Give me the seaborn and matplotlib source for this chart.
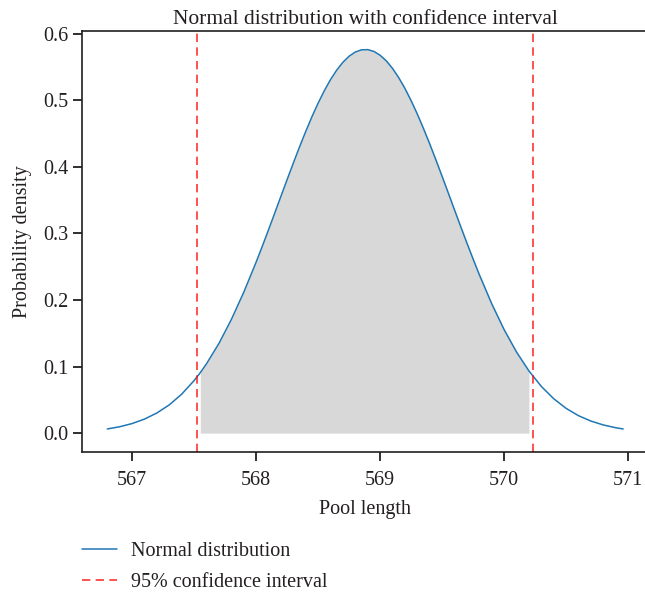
import matplotlib
matplotlib.use("Agg")
import matplotlib.pyplot as plt
import numpy as np
import pandas as pd
import seaborn as sns

# values
pool_length = [566.80, 566.90, 567.00, 567.10, 567.20, 567.30, 567.40, 567.50, 567.55,
               567.60, 567.70, 567.80, 567.90, 568.00, 568.05, 568.10, 568.15, 568.20,
               568.25, 568.30, 568.35, 568.40, 568.45, 568.50, 568.55, 568.60, 568.65,
               568.70, 568.75, 568.80, 568.85, 568.90, 568.95, 569.00, 569.05, 569.10,
               569.15, 569.20, 569.25, 569.30, 569.35, 569.40, 569.45, 569.50, 569.55,
               569.60, 569.65, 569.70, 569.75, 569.80, 569.90, 570.00, 570.10, 570.20,
               570.30, 570.40, 570.50, 570.60, 570.70, 570.80, 570.90, 570.96]
density = [0.0063, 0.0096, 0.0144, 0.0211, 0.0303, 0.0425, 0.0586, 0.0790, 0.0909,
           0.1042, 0.1347, 0.1706, 0.2115, 0.2568, 0.2808, 0.3054, 0.3305, 0.3558,
           0.3809, 0.4057, 0.4300, 0.4532, 0.4753, 0.4958, 0.5145, 0.5312, 0.5455,
           0.5573, 0.5664, 0.5727, 0.5760, 0.5763, 0.5736, 0.5679, 0.5594, 0.5481,
           0.5342, 0.5181, 0.4997, 0.4795, 0.4577, 0.4347, 0.4106, 0.3859, 0.3608,
           0.3355, 0.3104, 0.2857, 0.2616, 0.2382, 0.1945, 0.1556, 0.1219, 0.0935,
           0.0702, 0.0517, 0.0372, 0.0262, 0.0181, 0.0123, 0.0081, 0.0063]
ci_bounds = [567.52, 570.23]
fill_range = [567.55, 570.20]

df = pd.DataFrame({"Pool length": pool_length, "Probability density": density})

sns.set_style("ticks")
plt.rcParams["font.family"] = ["Liberation Serif", "DejaVu Serif"]
plt.rcParams["font.size"] = 14.5

ink = "#231f20"

fig = plt.figure(figsize=(6.45, 5.96), dpi=100)
ax = fig.add_axes([0.1279, 0.2411, 0.8767, 0.7069])

sns.lineplot(data=df, x="Pool length", y="Probability density", ax=ax,
             color="#1f77b4", linewidth=1.1, label="Normal distribution")

x = np.array(pool_length)
ax.fill_between(x, density, 0, where=(x >= fill_range[0]) & (x <= fill_range[1]),
                color="gray", alpha=0.3, linewidth=0)

for i, b in enumerate(ci_bounds):
    ax.axvline(b, color="red", alpha=0.8, linewidth=1.2, dashes=(5.0, 3.2),
               label="95% confidence interval" if i == 0 else None)

ax.set_xlim(566.60, 571.16)
ax.set_ylim(-0.0288, 0.6043)
ax.set_xticks([567, 568, 569, 570, 571])
ax.set_yticks([0.0, 0.1, 0.2, 0.3, 0.4, 0.5, 0.6])
ax.set_yticklabels(["0.0", "0.1", "0.2", "0.3", "0.4", "0.5", "0.6"])
ax.tick_params(axis="both", length=6.5, width=1.3, labelsize=14.5, colors=ink)
ax.tick_params(axis="x", pad=7)
for s in ax.spines.values():
    s.set_linewidth(1.2)
    s.set_color(ink)

ax.set_xlabel("Pool length", fontsize=14.5, labelpad=7, color=ink)
ax.set_ylabel("Probability density", fontsize=14.5, labelpad=8, color=ink)
ax.set_title("Normal distribution with confidence interval", fontsize=15.5, pad=5,
             color=ink)

handles, labels = ax.get_legend_handles_labels()
ax.get_legend().remove()
leg = fig.legend(handles, labels, loc="upper left",
                 bbox_to_anchor=(82 / 645, 1 - 542 / 596), frameon=False,
                 fontsize=14.5, handlelength=1.75, handletextpad=0.7,
                 labelspacing=0.58, borderpad=0, borderaxespad=0)
for t in leg.get_texts():
    t.set_color(ink)

fig.savefig("out.png", dpi=100)
